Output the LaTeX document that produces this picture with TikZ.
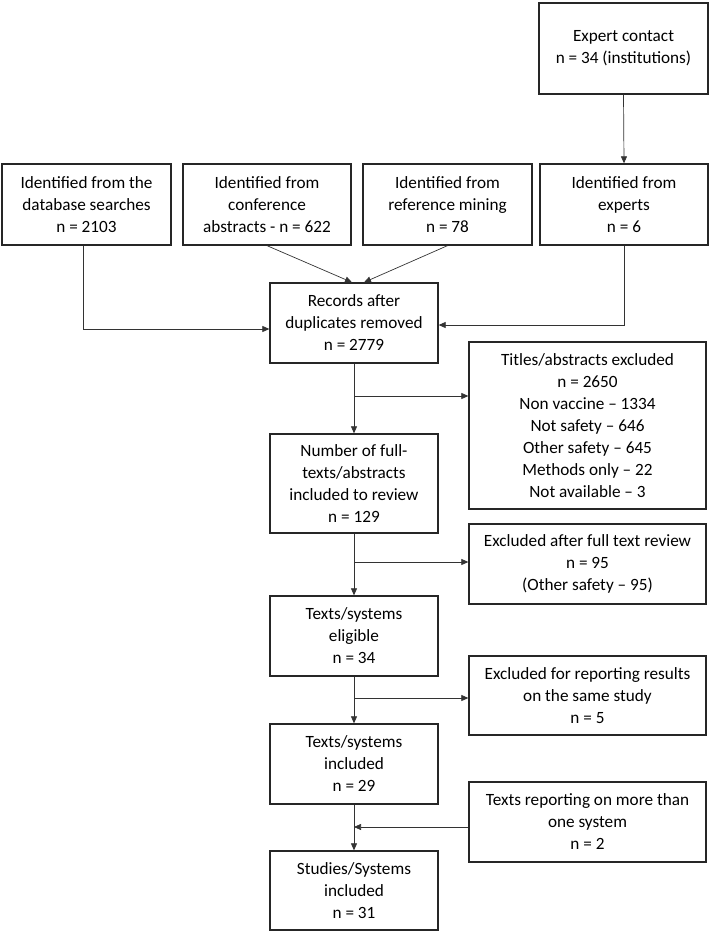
\documentclass[tikz,border=0pt]{standalone}
\usepackage{fontspec}
\setmainfont{Carlito}
\usetikzlibrary{arrows.meta,calc}
\begin{document}
\begin{tikzpicture}[x=1pt,y=-1pt,
 box/.style={draw=black!85, line width=1.3pt, align=center, inner sep=0pt, font=\fontsize{17.2}{22}\selectfont, text=black},
 arr/.style={-{Triangle[length=7pt,width=6pt]}, line width=0.7pt, draw=black!80},
 ln/.style={line width=0.7pt, draw=black!80}]
\path[use as bounding box] (0,0) rectangle (709,933);
\node[box, minimum width=169pt, minimum height=91pt] (exp) at (623.5,48.5) {Expert contact\\n = 34 (institutions)};
\node[box, minimum width=169pt, minimum height=81pt] (b1) at (86.5,204.5) {Identified from the\\database searches\\n = 2103};
\node[box, minimum width=168pt, minimum height=81pt] (b2) at (267,204.5) {Identified from\\conference\\abstracts - n = 622};
\node[box, minimum width=169pt, minimum height=81pt] (b3) at (447.5,204.5) {Identified from\\reference mining\\n = 78};
\node[box, minimum width=168pt, minimum height=81pt] (b4) at (624,204.5) {Identified from\\experts\\n = 6};
\node[box, minimum width=168pt, minimum height=80pt] (rec) at (354,323) {Records after\\duplicates removed\\n = 2779};
\node[box, minimum width=237pt, minimum height=167pt] (tit) at (587.5,425.5) {Titles/abstracts excluded\\n = 2650\\Non vaccine -- 1334\\Not safety -- 646\\Other safety -- 645\\Methods only -- 22\\Not available -- 3};
\node[box, minimum width=168pt, minimum height=99pt] (num) at (354,483.5) {Number of full-\\texts/abstracts\\included to review\\n = 129};
\node[box, minimum width=237pt, minimum height=80pt] (exa) at (587.5,564) {Excluded after full text review\\n = 95\\(Other safety -- 95)};
\node[box, minimum width=168pt, minimum height=80pt] (eli) at (354,636) {Texts/systems\\eligible\\n = 34};
\node[box, minimum width=237pt, minimum height=79pt] (exb) at (587.5,695.5) {Excluded for reporting results\\on the same study\\n = 5};
\node[box, minimum width=168pt, minimum height=80pt] (inc) at (354,764) {Texts/systems\\included\\n = 29};
\node[box, minimum width=237pt, minimum height=80pt] (rep) at (587.5,822) {Texts reporting on more than\\one system\\n = 2};
\node[box, minimum width=168pt, minimum height=79pt] (stu) at (354,890.5) {Studies/Systems\\included\\n = 31};
\draw[arr] (exp.south) -- (b4.north);
\draw[arr] (b2.south) -- ($(rec.north)+(-2,0)$);
\draw[arr] (b3.south) -- ($(rec.north)+(10,0)$);
\draw[arr] ($(b1.south)+(-3,0)$) |- ($(rec.west)+(0,6)$);
\draw[arr] (b4.south) |- ($(rec.east)+(0,2)$);
\draw[arr] (rec.south) -- (num.north);
\draw[arr] (num.south) -- (eli.north);
\draw[arr] (eli.south) -- (inc.north);
\draw[arr] (inc.south) -- (stu.north);
\coordinate (j1) at (rec.south |- 0,396);
\coordinate (j2) at (num.south |- 0,562);
\coordinate (j3) at (eli.south |- 0,698);
\coordinate (j4) at (inc.south |- 0,827);
\draw[arr] (j1) -- (j1 -| tit.west);
\draw[arr] (j2) -- (j2 -| exa.west);
\draw[arr] (j3) -- (j3 -| exb.west);
\draw[arr] (rep.west |- j4) -- (j4);
\end{tikzpicture}
\end{document}
